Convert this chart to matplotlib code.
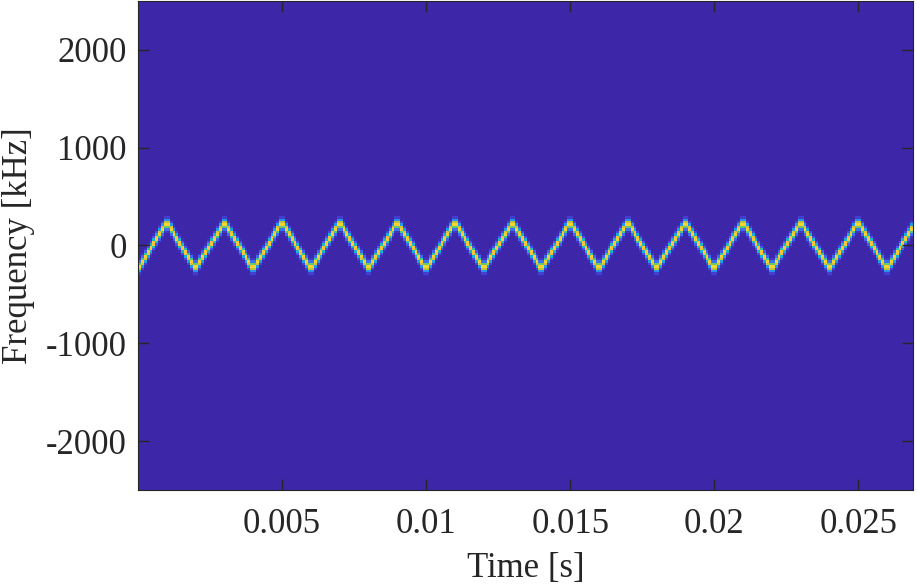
import numpy as np
import matplotlib
matplotlib.use('Agg')
import matplotlib.pyplot as plt
from matplotlib.colors import LinearSegmentedColormap

# triangle sweep corners (s, kHz)
corner_t = [0.000, 0.001, 0.002, 0.003, 0.004, 0.005, 0.006, 0.007, 0.008, 0.009,
            0.010, 0.011, 0.012, 0.013, 0.014, 0.015, 0.016, 0.017, 0.018, 0.019,
            0.020, 0.021, 0.022, 0.023, 0.024, 0.025, 0.026, 0.027]
corner_f = [-240, 240, -240, 240, -240, 240, -240, 240, -240, 240,
            -240, 240, -240, 240, -240, 240, -240, 240, -240, 240,
            -240, 240, -240, 240, -240, 240, -240, 240]
t_max = 0.0269
f_lim = 2500
xticks = [0.005, 0.01, 0.015, 0.02, 0.025]
xtick_labels = ['0.005', '0.01', '0.015', '0.02', '0.025']
yticks = [-2000, -1000, 0, 1000, 2000]

# parula-like colormap
parula = LinearSegmentedColormap.from_list('parula', [
    (0.2422, 0.1504, 0.6603), (0.2810, 0.3228, 0.9579), (0.1786, 0.5289, 0.9682),
    (0.0689, 0.6948, 0.8394), (0.2161, 0.7843, 0.5923), (0.6720, 0.7793, 0.2227),
    (0.9970, 0.7659, 0.2199), (0.9598, 0.8870, 0.1521), (0.9769, 0.9839, 0.0805)])

# spectrogram-like grid
t_bins = np.arange(0, t_max, 0.0001) + 0.00005
f_bins = np.arange(-f_lim, f_lim, 25) + 12.5
f_inst = np.interp(t_bins, corner_t, corner_f)
power = 0.82 * np.exp(-0.5 * ((f_bins[:, None] - f_inst[None, :]) / 32.0) ** 2)

plt.rcParams['font.family'] = 'Liberation Serif'
plt.rcParams['axes.unicode_minus'] = False
fig = plt.figure(figsize=(9.17, 5.88), dpi=100)
ax = fig.add_axes([0.1505, 0.1667, 0.8451, 0.8316])
ax.imshow(power, cmap=parula, vmin=0, vmax=1, origin='lower', aspect='auto',
          interpolation='nearest', extent=[0, t_max, -f_lim, f_lim])
ax.set_xlim(0, t_max)
ax.set_ylim(-f_lim, f_lim)
ax.set_xticks(xticks)
ax.set_xticklabels(xtick_labels)
ax.set_yticks(yticks)
ax.tick_params(direction='in', length=8, width=1, colors='#262626', labelsize=25,
               top=True, right=True, labelcolor='#262626')
ax.tick_params(axis='x', pad=13)
ax.tick_params(axis='y', pad=8)
for s in ax.spines.values():
    s.set_color('#262626')
ax.set_xlabel('Time [s]', fontsize=25, color='#262626', labelpad=8)
ax.set_ylabel('Frequency [kHz]', fontsize=25, color='#262626', labelpad=8)
fig.savefig('out.png', dpi=100)
